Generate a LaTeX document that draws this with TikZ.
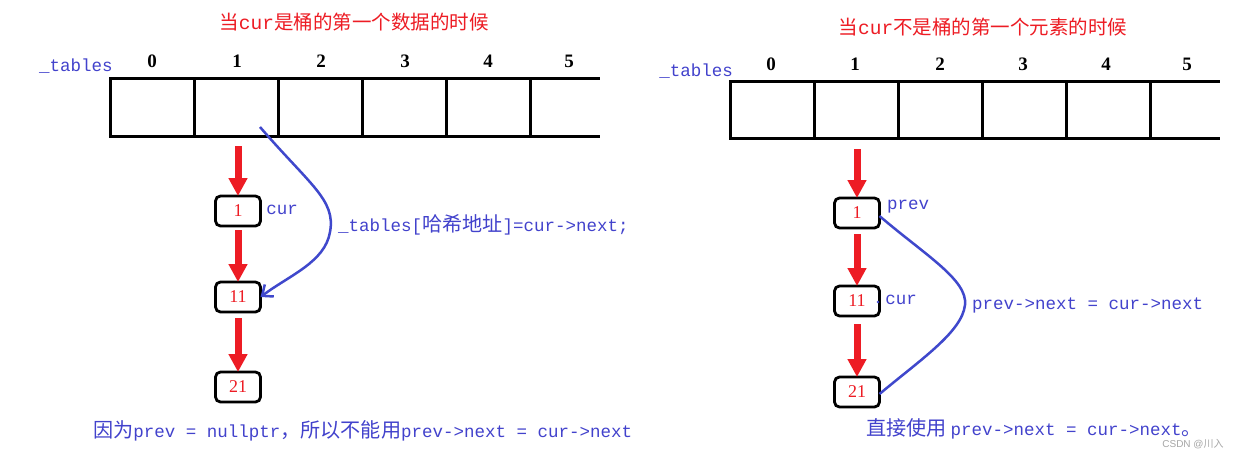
\documentclass[tikz,border=0pt]{standalone}
\usepackage{fontspec}
\setmainfont{Liberation Mono}
\newfontfamily\cjk[Scale=1.15]{Noto Sans CJK SC}
\newfontfamily\cjkT{Noto Sans CJK SC}
\newfontfamily\serif{Liberation Serif}
\newfontfamily\sans{Liberation Sans}
\usetikzlibrary{arrows.meta}
\definecolor{pred}{RGB}{237,28,36}
\definecolor{pblue}{RGB}{63,72,204}
\definecolor{tblue}{RGB}{66,66,204}
\newcommand\zh[1]{{\cjk #1}}
\newcommand\zhT[1]{{\cjkT #1}}
\tikzset{
  cell/.style={draw=black, line width=3pt, minimum width=84pt, minimum height=58pt, inner sep=0pt, outer sep=0pt},
  tline/.style={draw=black, line width=3pt},
  idx/.style={font=\serif\bfseries\fontsize{19}{22}\selectfont, inner sep=0pt},
  lnode/.style={draw=black, line width=2.8pt, rounded corners=5pt, minimum width=45pt, minimum height=30pt, inner sep=0pt, outer sep=0pt, text=pred, font=\serif\fontsize{18}{20}\selectfont},
  redarr/.style={draw=pred, line width=7pt, -{Triangle[length=18pt,width=18pt]}},
  bcurve/.style={draw=pblue, line width=2.5pt},
  code/.style={text=tblue, font=\fontsize{17.5}{20}\selectfont, inner sep=0pt},
  ttl/.style={text=pred, font=\fontsize{19.5}{22}\selectfont, inner sep=0pt},
}
\begin{document}
\begin{tikzpicture}[x=1pt,y=-1pt]
\fill[white] (0,0) rectangle (1239,450);
\useasboundingbox (0,0) rectangle (1239,450);

% ---------------- left part ----------------
\node[ttl] (lt) at (354,22) {\zhT{当}cur\zhT{是桶的第一个数据的时候}};
\node[code, anchor=center] (ltab) at (76,66) {\_tables};
\foreach \i/\x in {0/152,1/236,2/320,3/404,4/488}{
  \node[cell] (lc\i) at (\x,107) {};
}
\coordinate (le1) at (600,78);
\coordinate (le2) at (600,136);
\draw[tline] (lc4.north east) -- (le1);
\draw[tline] (lc4.south east) -- (le2);
\foreach \i/\x in {0/152,1/237,2/321,3/405,4/488,5/569}{
  \node[idx] (li\i) at (\x,61) {\i};
}
\node[lnode] (n1) at (238,211) {1};
\node[lnode] (n11) at (238,297) {11};
\node[lnode] (n21) at (238,387) {21};
\coordinate (la0) at (238,146);
\draw[redarr] (la0) -- (n1.north);
\draw[redarr] ([yshift=-4pt]n1.south) -- (n11.north);
\draw[redarr] ([yshift=-6pt]n11.south) -- (n21.north);
\node[code] (lcur) at (282,210) {cur};
\coordinate (ls) at (260,127);
\draw[bcurve, -{Straight Barb[length=9pt,width=15pt]}] (ls) .. controls (310,185) and (336,200) .. (330,232) .. controls (325,262) and (290,275) .. (n11.east);
\node[code, anchor=west] (lcode) at (338,225) {\_tables[\zh{哈希地址}]=cur->next;};
\node[code, anchor=west] (lbot) at (93,431) {\zh{因为}prev = nullptr\zh{，所以不能用}prev->next = cur->next};

% ---------------- right part ----------------
\node[ttl] (rt) at (983,27) {\zhT{当}cur\zhT{不是桶的第一个元素的时候}};
\node[code, anchor=center] (rtab) at (696,71) {\_tables};
\foreach \i/\x in {0/772,1/856,2/940,3/1024,4/1108}{
  \node[cell, minimum height=57pt] (rc\i) at (\x,109.5) {};
}
\coordinate (re1) at (1220,81);
\coordinate (re2) at (1220,138);
\draw[tline] (rc4.north east) -- (re1);
\draw[tline] (rc4.south east) -- (re2);
\foreach \i/\x in {0/771,1/855,2/940,3/1023,4/1106,5/1187}{
  \node[idx] (ri\i) at (\x,64) {\i};
}
\node[lnode] (m1) at (857,213) {1};
\node[lnode] (m11) at (857,301) {11};
\node[lnode] (m21) at (857,392) {21};
\coordinate (ra0) at (857,149);
\draw[redarr] (ra0) -- (m1.north);
\draw[redarr] ([yshift=-6pt]m1.south) -- (m11.north);
\draw[redarr] ([yshift=-8pt]m11.south) -- (m21.north);
\node[code] (rprev) at (908,207) {prev};
\node[code] (rcur) at (901,300) {cur};
\fill[pblue] (878,302) circle (1.3pt);
\draw[bcurve] ([yshift=-3pt]m1.east) .. controls (925,255) and (968,280) .. (965,305) .. controls (962,332) and (920,360) .. ([yshift=-2pt]m21.east);
\node[code, anchor=west] (rcode) at (972,305) {prev->next = cur->next};
\node[code, anchor=west] (rbot) at (866,429) {\zh{直接使用}\hspace{4pt}prev->next = cur->next\zh{。}};
\node[text=gray!70, font=\sans\fontsize{10}{12}\selectfont, inner sep=0pt] (csdn) at (1193,444) {CSDN @\zhT{川入}};
\end{tikzpicture}
\end{document}
